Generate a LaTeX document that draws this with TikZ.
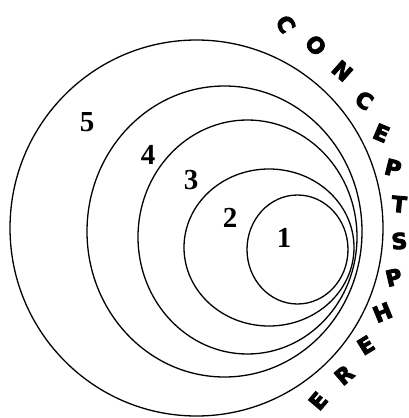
\documentclass[tikz,border=0pt]{standalone}
\usepackage{fontspec}
\setmainfont{Liberation Serif}
\newfontfamily\heavyfont[FakeBold=4]{DejaVu Sans}
\tikzset{
  ring/.style={draw, line width=1.3pt},
  num/.style={font=\fontsize{29}{29}\selectfont\bfseries, inner sep=0pt},
  arcletter/.style={font=\fontsize{22}{22}\selectfont\heavyfont\bfseries, inner sep=0pt}
}
\begin{document}
\begin{tikzpicture}[x=1pt, y=-1pt]
\useasboundingbox (0,0) rectangle (409,418);
% nested rings
\draw[ring] (196.5,228) ellipse [x radius=186.5, y radius=188];
\draw[ring] (224.5,231.5) ellipse [x radius=137.5, y radius=145.5];
\draw[ring] (247.5,237) ellipse [x radius=109.5, y radius=117];
\draw[ring] (269,247.5) ellipse [x radius=85, y radius=78.5];
\draw[ring] (297.5,249.5) ellipse [x radius=50.5, y radius=54.5];
% ring numbers
\node[num] (n5) at (87,122) {5};
\node[num] (n4) at (148,155) {4};
\node[num] (n3) at (191,180) {3};
\node[num] (n2) at (230,218) {2};
\node[num] (n1) at (284,237.5) {1};
% word round the outside
\foreach \ch [count=\i from 0] in {C,O,N,C,E,P,T,S,P,H,E,R,E} {
  \pgfmathsetmacro{\ang}{59.5-9.1*\i}
  \node[arcletter, rotate=-\ang] (w\i) at ({168+232*cos(\ang)},{224-232*sin(\ang)}) {\ch};
}
\end{tikzpicture}
\end{document}
